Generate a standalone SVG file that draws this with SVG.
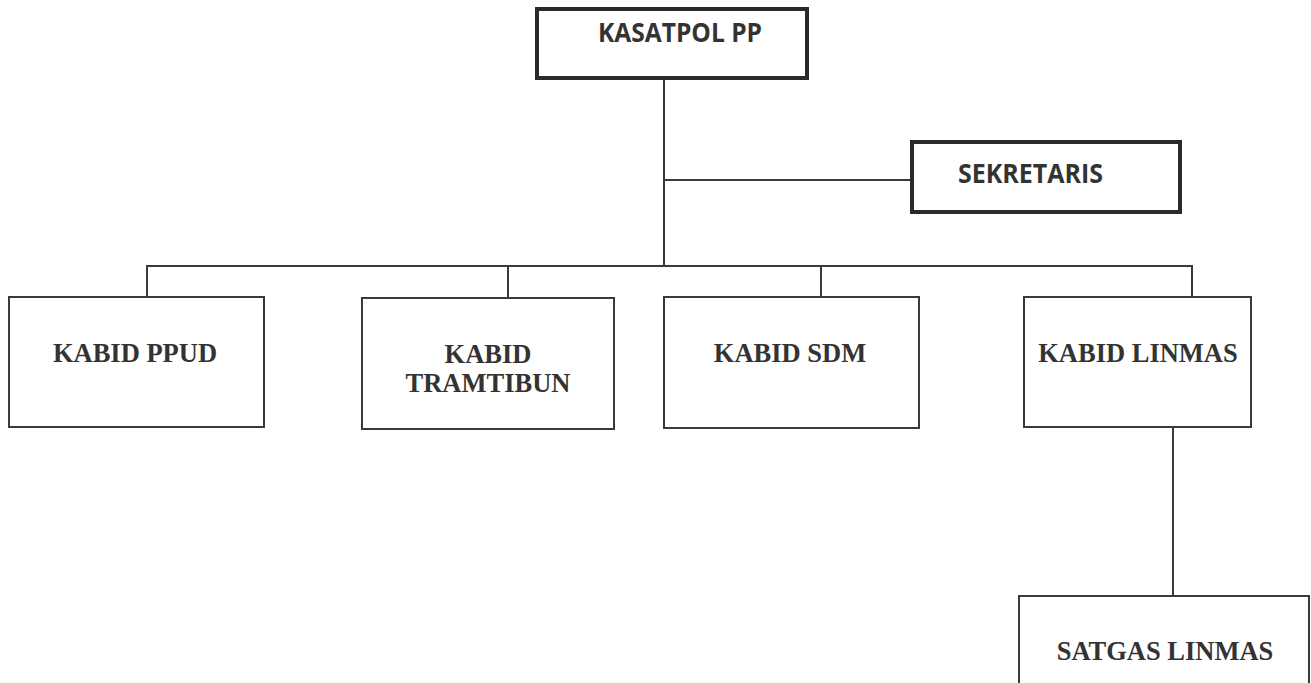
<svg xmlns="http://www.w3.org/2000/svg" width="1311" height="683" viewBox="0 0 1311 683">
<style>
.thick{fill:#fff;stroke:#2a2a2a;stroke-width:4}
.thin{fill:#fff;stroke:#3a3a3a;stroke-width:2}
.line{stroke:#3a3a3a;stroke-width:2;fill:none}
.sans{font-family:"Open Sans","Liberation Sans",sans-serif;font-weight:bold;font-size:26px;fill:#333}
.serif{font-family:"Liberation Serif","Times New Roman",serif;font-weight:bold;font-size:26.5px;fill:#333;text-anchor:middle}
</style>
<rect width="1311" height="683" fill="#fff"/>
<g id="connectors">
<path class="line" d="M664 78 V266"/>
<path class="line" d="M664 180 H912"/>
<path class="line" d="M147 297 V266 H1192 V297"/>
<path class="line" d="M508 266 V298"/>
<path class="line" d="M821 266 V297"/>
<path class="line" d="M1173 427 V596"/>
</g>
<g id="kasatpol">
<rect class="thick" x="537" y="9" width="270" height="69"/>
<text class="sans" x="598" y="42" textLength="164" lengthAdjust="spacingAndGlyphs">KASATPOL PP</text>
</g>
<g id="sekretaris">
<rect class="thick" x="912" y="142" width="268" height="70"/>
<text class="sans" x="958" y="183" textLength="145" lengthAdjust="spacingAndGlyphs">SEKRETARIS</text>
</g>
<g id="kabid-ppud">
<rect class="thin" x="9" y="297" width="255" height="130"/>
<text class="serif" x="135" y="362">KABID PPUD</text>
</g>
<g id="kabid-tramtibun">
<rect class="thin" x="362" y="298" width="252" height="131"/>
<text class="serif" x="488" y="363">KABID</text>
<text class="serif" x="488" y="392">TRAMTIBUN</text>
</g>
<g id="kabid-sdm">
<rect class="thin" x="664" y="297" width="255" height="131"/>
<text class="serif" x="790" y="362">KABID SDM</text>
</g>
<g id="kabid-linmas">
<rect class="thin" x="1024" y="297" width="227" height="130"/>
<text class="serif" x="1138" y="362">KABID LINMAS</text>
</g>
<g id="satgas-linmas">
<rect class="thin" x="1019" y="596" width="290" height="100"/>
<text class="serif" x="1165" y="660">SATGAS LINMAS</text>
</g>
</svg>
